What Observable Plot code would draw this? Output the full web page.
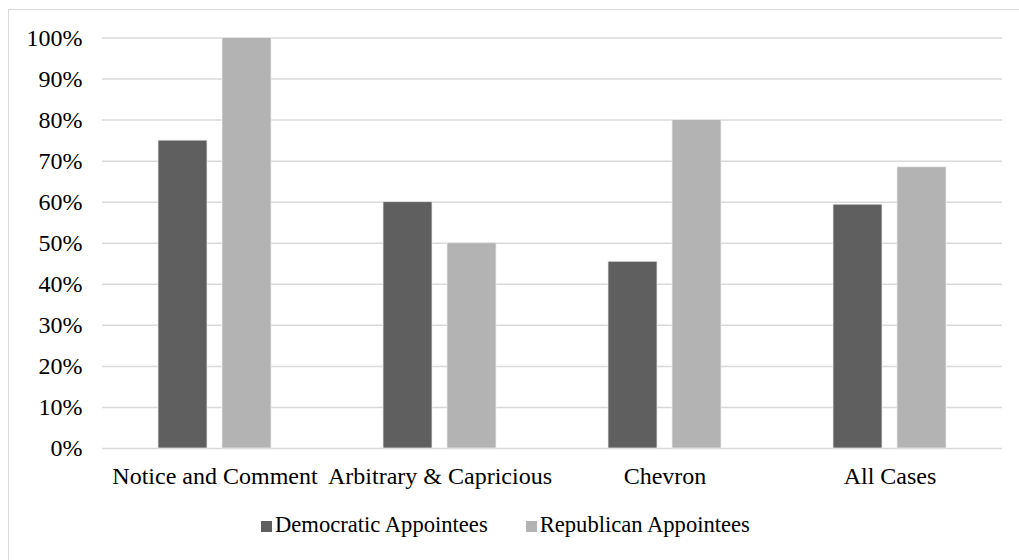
<!DOCTYPE html>
<html>
<head>
<meta charset="utf-8">
<script src="https://cdn.jsdelivr.net/npm/d3@7"></script>
<script src="https://cdn.jsdelivr.net/npm/@observablehq/plot@0.6"></script>
<style>
  html, body { margin: 0; padding: 0; background: #fff; }
  #wrap { position: relative; width: 1019px; height: 560px; overflow: hidden; }
  #frame { position: absolute; left: 8px; top: 9px; right: -10px; bottom: -10px;
           border-left: 1.5px solid #d9d9d9; border-top: 1.5px solid #d9d9d9; }
  #chart { position: absolute; left: 0; top: 0; }
  #chart svg, #chart svg text { font-family: "Liberation Serif", "Times New Roman", serif !important; font-size: 24px !important; fill: #000; }
  #legend { position: absolute; left: 261px; top: 512px; display: flex; align-items: center;
            font-family: "Liberation Serif", "Times New Roman", serif; font-size: 22.6px; color: #000; line-height: 26px; }
  .item { display: flex; align-items: center; margin-right: 38px; white-space: nowrap; }
  .sw { display: inline-block; width: 11px; height: 11px; margin-right: 3px; position: relative; top: 1px; }
</style>
</head>
<body>
<div id="wrap">
  <div id="frame"></div>
  <div id="chart"></div>
  <div id="legend"></div>
</div>
<script>
const categories = ["Notice and Comment", "Arbitrary & Capricious", "Chevron", "All Cases"];
const series = ["Democratic Appointees", "Republican Appointees"];
const democratic = [0.75, 0.60, 0.455, 0.594];
const republican = [1.00, 0.50, 0.80, 0.685];
const yTicks = [0, 0.1, 0.2, 0.3, 0.4, 0.5, 0.6, 0.7, 0.8, 0.9, 1.0];
const colors = ["#5f5f5f", "#b3b3b3"];

const data = categories.flatMap((c, i) => [
  {category: c, series: series[0], value: democratic[i]},
  {category: c, series: series[1], value: republican[i]}
]);

const chart = Plot.plot({
  width: 1019,
  height: 560,
  marginLeft: 102,
  marginRight: 17,
  marginTop: 37.5,
  marginBottom: 112,
  style: {
    fontFamily: "Liberation Serif, serif",
    fontSize: "24px",
    color: "#000",
    background: "transparent",
    overflow: "visible"
  },
  fx: {domain: categories, paddingInner: 0, paddingOuter: 0, label: null, axis: "bottom", tickSize: 0, tickPadding: 18},
  x: {domain: series, paddingInner: 15 / 64, paddingOuter: 0.875, axis: null},
  y: {domain: [0, 1], ticks: yTicks, tickFormat: d => Math.round(d * 100) + "%", label: null, tickSize: 0, tickPadding: 20},
  color: {domain: series, range: colors},
  marks: [
    Plot.ruleY(yTicks, {stroke: "#d9d9d9", strokeWidth: 1.5}),
    Plot.barY(data, {fx: "category", x: "series", y: "value", fill: "series", stroke: "#ececec", strokeWidth: 0.75})
  ]
});
document.getElementById("chart").appendChild(chart);

const legend = document.getElementById("legend");
series.forEach((s, i) => {
  const item = document.createElement("span");
  item.className = "item";
  const sw = document.createElement("span");
  sw.className = "sw";
  sw.style.background = colors[i];
  item.appendChild(sw);
  item.appendChild(document.createTextNode(s));
  legend.appendChild(item);
});
</script>
</body>
</html>
